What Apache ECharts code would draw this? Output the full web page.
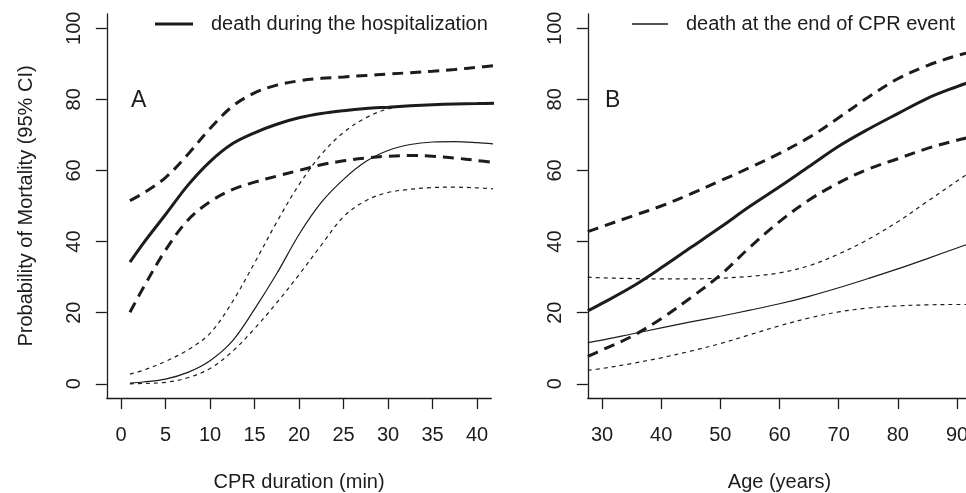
<!DOCTYPE html>
<html>
<head>
<meta charset="utf-8">
<script src="https://cdn.jsdelivr.net/npm/echarts@6/dist/echarts.min.js"></script>
<style>
  html, body { margin: 0; padding: 0; background: #fff; }
  #chart { width: 966px; height: 493px; }
</style>
</head>
<body>
<div id="chart"></div>
<script>
// panel A: mortality vs CPR duration
const cprMin = [1, 2.5, 5, 7.5, 10, 12.5, 15, 17.5, 20, 22.5, 25, 27.5, 30, 32.5, 35, 37.5, 40, 42];
const hospA = [34.2, 39.5, 47.6, 55.8, 62.5, 67.5, 70.6, 73.0, 74.8, 76.0, 76.8, 77.4, 77.8, 78.2, 78.5, 78.7, 78.8, 78.9];
const hospAHi = [51.5, 53.6, 58.0, 64.5, 71.8, 78.0, 81.8, 84.0, 85.2, 85.9, 86.3, 86.7, 87.1, 87.5, 87.9, 88.4, 89.0, 89.5];
const hospALo = [20.1, 27.0, 37.6, 46.0, 51.2, 54.6, 56.7, 58.4, 60.0, 61.6, 62.7, 63.5, 64.0, 64.2, 64.0, 63.5, 62.8, 62.2];
const cprA = [0.2, 0.5, 1.3, 3.2, 6.5, 12.0, 21.0, 31.0, 42.0, 51.0, 57.5, 62.5, 65.6, 67.3, 68.0, 68.1, 67.8, 67.4];
const cprAHi = [2.7, 3.8, 6.3, 9.5, 14.2, 23.0, 34.0, 45.5, 56.0, 64.5, 70.7, 74.8, 77.3, 78.2, 78.5, 78.6, 78.7, 78.7];
const cprALo = [0.0, 0.1, 0.4, 1.7, 4.3, 9.1, 15.5, 22.8, 30.7, 39.0, 47.0, 51.5, 53.8, 54.7, 55.2, 55.3, 55.1, 54.8];

// panel B: mortality vs age
const ageYears = [27.6, 30, 35, 40, 45, 50, 55, 60, 65, 70, 75, 80, 85, 90, 92.4];
const hospB = [20.5, 22.6, 27.2, 32.6, 38.3, 44.0, 49.9, 55.4, 61.1, 66.8, 71.6, 76.0, 80.3, 83.6, 85.0];
const hospBHi = [42.8, 44.2, 47.1, 50.0, 53.4, 57.1, 60.8, 64.8, 69.3, 74.8, 80.6, 85.8, 89.5, 92.3, 93.3];
const hospBLo = [7.7, 9.5, 13.3, 18.3, 24.2, 30.6, 38.4, 45.6, 51.7, 56.5, 60.4, 63.3, 66.2, 68.5, 69.4];
const cprB = [11.6, 12.3, 14.0, 15.7, 17.4, 19.0, 20.7, 22.5, 24.6, 27.0, 29.6, 32.3, 35.2, 38.2, 39.6];
const cprBHi = [30.0, 29.8, 29.6, 29.5, 29.5, 29.7, 30.2, 31.2, 33.2, 36.5, 40.6, 45.6, 51.3, 57.0, 59.7];
const cprBLo = [3.8, 4.3, 5.7, 7.3, 9.2, 11.3, 13.8, 16.3, 18.5, 20.2, 21.3, 21.9, 22.2, 22.3, 22.3];

const yTicks = [0, 20, 40, 60, 80, 100];
const cprTicks = [0, 5, 10, 15, 20, 25, 30, 35, 40];
const ageTicks = [30, 40, 50, 60, 70, 80, 90];

const HOSP = 'death during the hospitalization';
const CPR = 'death at the end of CPR event';
const ink = '#1c1c1c';
const font = '"Liberation Sans", Arial, Helvetica, sans-serif';

function curve(name, grid, xs, ys, width, dash) {
  return {
    name: name,
    type: 'line',
    xAxisIndex: grid,
    yAxisIndex: grid,
    data: xs.map((x, i) => [x, ys[i]]),
    smooth: 0.35,
    showSymbol: false,
    symbol: 'none',
    silent: true,
    itemStyle: { color: ink },
    lineStyle: { color: ink, width: width, type: dash || 'solid', cap: 'butt' }
  };
}

function xAxisFor(grid, min, max, ticks, title) {
  return {
    type: 'value',
    gridIndex: grid,
    min: min,
    max: max,
    name: title,
    nameLocation: 'middle',
    nameGap: 74,
    nameTextStyle: { fontSize: 20, color: ink, fontFamily: font },
    axisLine: { show: true, onZero: false, lineStyle: { color: ink, width: 1.3 } },
    axisTick: { show: true, inside: false, length: 11, customValues: ticks, lineStyle: { color: ink, width: 1.3 } },
    axisLabel: { customValues: ticks, margin: 27, fontSize: 20, color: ink, fontFamily: font,
                 alignMinLabel: 'center', alignMaxLabel: 'center' },
    splitLine: { show: false }
  };
}

function yAxisFor(grid, title) {
  return {
    type: 'value',
    gridIndex: grid,
    min: -4,
    max: 104,
    name: title,
    nameLocation: 'middle',
    nameGap: 70,
    nameTextStyle: { fontSize: 20, color: ink, fontFamily: font },
    axisLine: { show: true, onZero: false, lineStyle: { color: ink, width: 1.3 } },
    axisTick: { show: true, inside: false, length: 11, customValues: yTicks, lineStyle: { color: ink, width: 1.3 } },
    axisLabel: { customValues: yTicks, rotate: 90, margin: 22, fontSize: 20, color: ink, fontFamily: font },
    splitLine: { show: false }
  };
}

const chart = echarts.init(document.getElementById('chart'));
chart.setOption({
  animation: false,
  backgroundColor: '#fff',
  textStyle: { fontFamily: font },
  title: [
    { text: 'A', left: 131, top: 89, padding: 0, textStyle: { fontSize: 23, fontWeight: 'normal', color: ink, fontFamily: font } },
    { text: 'B', left: 605, top: 89, padding: 0, textStyle: { fontSize: 23, fontWeight: 'normal', color: ink, fontFamily: font } }
  ],
  legend: [
    {
      data: [HOSP], left: 155, top: 14, padding: 0, icon: 'rect', itemWidth: 38, itemHeight: 3,
      selectedMode: false,
      textStyle: { fontSize: 20, color: ink, fontFamily: font, padding: [0, 0, 0, 13] }
    },
    {
      data: [CPR], left: 632, top: 14, padding: 0, icon: 'rect', itemWidth: 36, itemHeight: 1.3,
      selectedMode: false,
      textStyle: { fontSize: 20, color: ink, fontFamily: font, padding: [0, 0, 0, 13] }
    }
  ],
  grid: [
    { left: 106.8, top: 14, width: 384.5, height: 384, outerBoundsMode: 'none' },
    { left: 587.8, top: 14, width: 383.4, height: 384, outerBoundsMode: 'none' }
  ],
  xAxis: [
    xAxisFor(0, -1.6, 41.6, cprTicks, 'CPR duration (min)'),
    xAxisFor(1, 27.6, 92.4, ageTicks, 'Age (years)')
  ],
  yAxis: [
    yAxisFor(0, 'Probability of Mortality (95% CI)'),
    yAxisFor(1, '')
  ],
  series: [
    curve(HOSP, 0, cprMin, hospA, 3),
    curve(HOSP + ' (upper 95% CI)', 0, cprMin, hospAHi, 3, [11, 7]),
    curve(HOSP + ' (lower 95% CI)', 0, cprMin, hospALo, 3, [11, 7]),
    curve(CPR, 0, cprMin, cprA, 1.2),
    curve(CPR + ' (upper 95% CI)', 0, cprMin, cprAHi, 1.2, [4, 4]),
    curve(CPR + ' (lower 95% CI)', 0, cprMin, cprALo, 1.2, [4, 4]),
    curve(HOSP, 1, ageYears, hospB, 3),
    curve(HOSP + ' (upper 95% CI)', 1, ageYears, hospBHi, 3, [11, 7]),
    curve(HOSP + ' (lower 95% CI)', 1, ageYears, hospBLo, 3, [11, 7]),
    curve(CPR, 1, ageYears, cprB, 1.2),
    curve(CPR + ' (upper 95% CI)', 1, ageYears, cprBHi, 1.2, [4, 4]),
    curve(CPR + ' (lower 95% CI)', 1, ageYears, cprBLo, 1.2, [4, 4])
  ]
});
</script>
</body>
</html>
